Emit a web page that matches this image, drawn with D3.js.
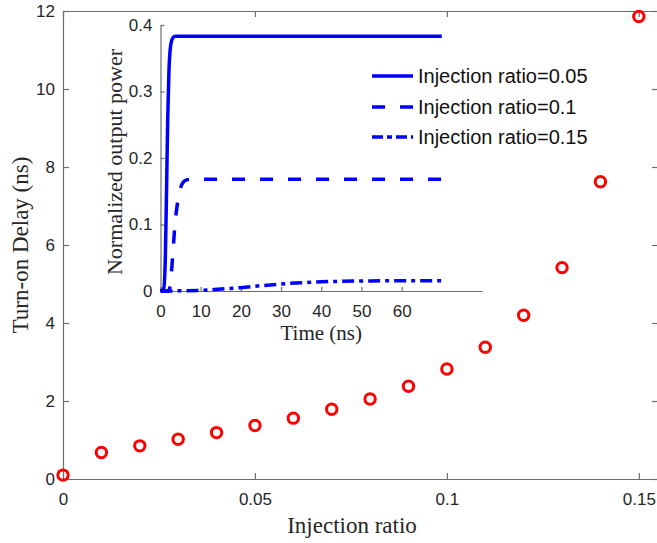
<!DOCTYPE html>
<html>
<head>
<meta charset="utf-8">
<script src="https://cdn.jsdelivr.net/npm/d3@7"></script>
<style>
  body { margin: 0; background: #fff; }
  svg { display: block; }
  .os path, .os line { stroke: #6e6e6e; stroke-width: 1.2; }
  .os text { fill: #262626; font-family: "Liberation Sans", Arial, sans-serif; font-size: 17px; }
  .oznaka { font-family: "Liberation Serif", "Times New Roman", serif; fill: #262626; }
  .legenda text { font-family: "Liberation Sans", Arial, sans-serif; font-size: 20px; fill: #111; }
</style>
</head>
<body>
<div id="okvir"></div>
<script>
// podaci - glavni graf (kasnjenje ukljucenja)
const omjerUbrizgavanja = [0, 0.01, 0.02, 0.03, 0.04, 0.05, 0.06, 0.07, 0.08, 0.09, 0.10, 0.11, 0.12, 0.13, 0.14, 0.15]
const kasnjenje = [0.10, 0.68, 0.85, 1.02, 1.19, 1.37, 1.56, 1.79, 2.05, 2.38, 2.82, 3.38, 4.20, 5.42, 7.62, 11.86]
const glavniXTickovi = [0, 0.05, 0.1, 0.15]
const glavniYTickovi = [0, 2, 4, 6, 8, 10, 12]

// podaci - umetnuti graf (normalizirana izlazna snaga)
const vrijeme05 = [0, 0.8, 1.2, 1.5, 1.8, 2.1, 2.5, 3, 3.6, 70]
const snaga05 = [0, 0.004, 0.05, 0.15, 0.26, 0.33, 0.368, 0.38, 0.383, 0.383]
const vrijeme10 = [0, 2, 2.5, 3, 3.6, 4.3, 5, 5.6, 6.5, 7.5, 70]
const snaga10 = [0, 0, 0.012, 0.05, 0.1, 0.135, 0.155, 0.163, 0.167, 0.168, 0.168]
const vrijeme15 = [0, 10, 15, 20, 25, 30, 35, 40, 50, 60, 70]
const snaga15 = [0, 0.001, 0.003, 0.005, 0.008, 0.0105, 0.0125, 0.0138, 0.015, 0.0155, 0.0155]
const umetakXTickovi = [0, 10, 20, 30, 40, 50, 60]
const umetakYTickovi = [0, 0.1, 0.2, 0.3, 0.4]
const legendaNazivi = ["Injection ratio=0.05", "Injection ratio=0.1", "Injection ratio=0.15"]

function crtaj() {
  const dimenzije = {
    sirina: 657,
    visina: 543,
    lijevo: 63, desno: 658, gore: 11, dolje: 479,
    umetak: { lijevo: 160.5, desno: 482, gore: 25, dolje: 291 },
  }

  const okvir = d3.select("#okvir")
    .append("svg")
      .attr("width", dimenzije.sirina)
      .attr("height", dimenzije.visina)

  // razmjeri glavnog grafa
  const xSkala = d3.scaleLinear()
    .domain([0, 0.155])
    .range([dimenzije.lijevo, dimenzije.desno])
  const ySkala = d3.scaleLinear()
    .domain([0, 12])
    .range([dimenzije.dolje, dimenzije.gore])

  const fmt = d3.format("~g")

  okvir.append("g")
      .attr("class", "os")
      .attr("transform", `translate(0,${dimenzije.dolje})`)
      .call(d3.axisBottom(xSkala).tickValues(glavniXTickovi).tickFormat(fmt)
        .tickSizeInner(-6).tickSizeOuter(0).tickPadding(14))
  okvir.append("g")
      .attr("class", "os")
      .attr("transform", `translate(0,${dimenzije.gore})`)
      .call(d3.axisTop(xSkala).tickValues(glavniXTickovi).tickFormat("")
        .tickSizeInner(-6).tickSizeOuter(0))
  okvir.append("g")
      .attr("class", "os")
      .attr("transform", `translate(${dimenzije.lijevo},0)`)
      .call(d3.axisLeft(ySkala).tickValues(glavniYTickovi).tickFormat(fmt)
        .tickSizeInner(-6).tickSizeOuter(0).tickPadding(8))
  okvir.append("g")
      .attr("class", "os")
      .attr("transform", `translate(${dimenzije.desno},0)`)
      .call(d3.axisRight(ySkala).tickValues(glavniYTickovi).tickFormat("")
        .tickSizeInner(-6).tickSizeOuter(0))

  // oznake osi
  okvir.append("text")
      .attr("class", "oznaka")
      .attr("x", 352)
      .attr("y", 533)
      .attr("text-anchor", "middle")
      .style("font-size", "23px")
      .text("Injection ratio")
  okvir.append("text")
      .attr("class", "oznaka")
      .attr("transform", `translate(28,245) rotate(-90)`)
      .attr("text-anchor", "middle")
      .style("font-size", "23px")
      .text("Turn-on Delay (ns)")

  // tocke
  okvir.append("g")
    .selectAll("circle")
    .data(omjerUbrizgavanja)
    .join("circle")
      .attr("cx", d => xSkala(d))
      .attr("cy", (d, i) => ySkala(kasnjenje[i]))
      .attr("r", 5.2)
      .style("fill", "none")
      .style("stroke", "#ff0000")
      .style("stroke-width", 3)

  // umetnuti graf
  const u = dimenzije.umetak
  const xUmetak = d3.scaleLinear().domain([0, 80]).range([u.lijevo, u.desno])
  const yUmetak = d3.scaleLinear().domain([0, 0.4]).range([u.dolje, u.gore])

  okvir.append("g")
      .attr("class", "os")
      .attr("transform", `translate(0,${u.dolje})`)
      .call(d3.axisBottom(xUmetak).tickValues(umetakXTickovi).tickFormat(fmt)
        .tickSizeInner(-4).tickSizeOuter(0).tickPadding(14))
  okvir.append("g")
      .attr("class", "os")
      .attr("transform", `translate(${u.lijevo},0)`)
      .call(d3.axisLeft(yUmetak).tickValues(umetakYTickovi).tickFormat(fmt)
        .tickSizeInner(-4).tickSizeOuter(0).tickPadding(8))

  okvir.append("text")
      .attr("class", "oznaka")
      .attr("x", (u.lijevo + u.desno) / 2)
      .attr("y", 340)
      .attr("text-anchor", "middle")
      .style("font-size", "21px")
      .text("Time (ns)")
  okvir.append("text")
      .attr("class", "oznaka")
      .attr("transform", `translate(122,162) rotate(-90)`)
      .attr("text-anchor", "middle")
      .style("font-size", "22px")
      .text("Normalized output power")

  const serije = [
    { t: vrijeme05, p: snaga05, crta: null },
    { t: vrijeme10, p: snaga10, crta: "13,15" },
    { t: vrijeme15, p: snaga15, crta: "12,5,4,5" },
  ]

  const linija = d3.line()
    .x(d => xUmetak(d[0]))
    .y(d => yUmetak(d[1]))
    .curve(d3.curveMonotoneX)

  okvir.append("g")
    .selectAll("path")
    .data(serije)
    .join("path")
      .attr("d", s => linija(s.t.map((t, i) => [t, s.p[i]])))
      .style("fill", "none")
      .style("stroke", "#0000ff")
      .style("stroke-width", 3.5)
      .style("stroke-dasharray", s => s.crta)

  // legenda
  const legenda = okvir.append("g")
      .attr("class", "legenda")
  const redovi = [76, 107, 137]
  legendaNazivi.forEach((naziv, i) => {
    legenda.append("line")
        .attr("x1", 372).attr("x2", 413)
        .attr("y1", redovi[i]).attr("y2", redovi[i])
        .style("stroke", "#0000ff")
        .style("stroke-width", 3.5)
        .style("stroke-dasharray", i === 0 ? null : (i === 1 ? "13,15" : "11,4,5,4"))
    legenda.append("text")
        .attr("x", 418)
        .attr("y", redovi[i])
        .attr("dy", "0.35em")
        .text(naziv)
  })
}
crtaj()
</script>
</body>
</html>
